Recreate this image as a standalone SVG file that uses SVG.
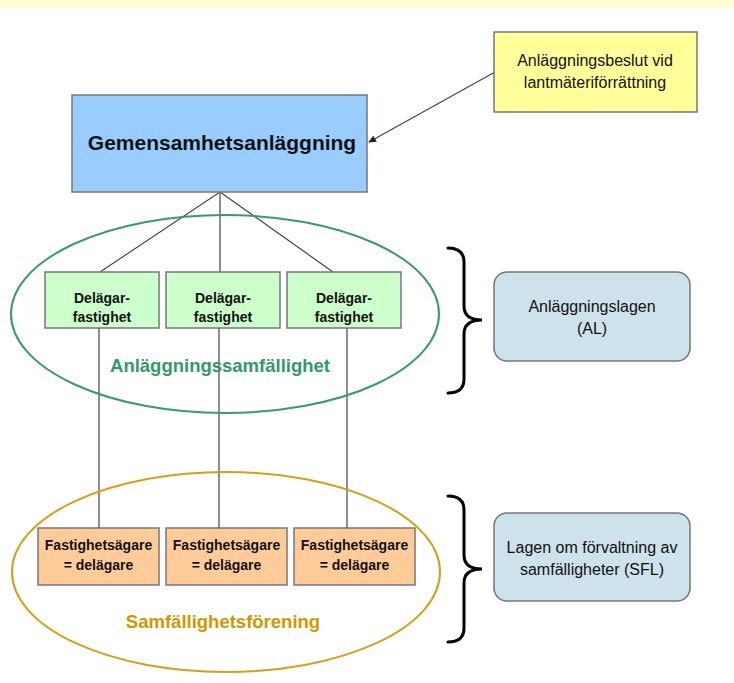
<svg xmlns="http://www.w3.org/2000/svg" width="734" height="683" viewBox="0 0 734 683">
<style>
text{font-family:"Liberation Sans",Arial,sans-serif;text-anchor:middle;fill:#111}
.box{stroke:#777;stroke-width:1.5}
.b{font-weight:bold}
.conn{stroke:#444;stroke-width:1.2;fill:none}
.brace{stroke:#000;stroke-width:3;fill:none;stroke-linecap:round}
</style>
<defs>
<marker id="ah" markerWidth="8" markerHeight="8" refX="7" refY="4" orient="auto" markerUnits="userSpaceOnUse">
<path d="M0,0.5 L8,4 L0,7.5 z" fill="#222"/>
</marker>
</defs>
<rect x="0" y="0" width="734" height="7" fill="#ffffcc"/>
<g id="connectors">
<line class="conn" x1="495" y1="72" x2="369" y2="142" marker-end="url(#ah)"/>
<line class="conn" x1="220" y1="192" x2="100" y2="272"/>
<line class="conn" x1="220" y1="192" x2="220" y2="272"/>
<line class="conn" x1="220" y1="192" x2="333" y2="272"/>
<line class="conn" x1="99" y1="328" x2="99" y2="528"/>
<line class="conn" x1="219" y1="328" x2="219" y2="528"/>
<line class="conn" x1="347" y1="328" x2="347" y2="528"/>
</g>
<g id="ellipse-anl">
<ellipse cx="225" cy="314" rx="214" ry="99" fill="none" stroke="#3a9a6a" stroke-width="2"/>
<text x="220" y="372" class="b" style="font-size:18.5px;fill:#339966">Anläggningssamfällighet</text>
</g>
<g id="ellipse-sam">
<ellipse cx="226" cy="572" rx="214" ry="100" fill="none" stroke="#d4a017" stroke-width="2"/>
<text x="223" y="628" class="b" style="font-size:18.5px;fill:#cc9900">Samfällighetsförening</text>
</g>
<g id="beslut">
<rect class="box" x="494" y="32" width="203" height="80" fill="#ffff99"/>
<text x="595" y="66" style="font-size:16px">Anläggningsbeslut vid</text>
<text x="595" y="88" style="font-size:16px">lantmäteriförrättning</text>
</g>
<g id="gemensamhet">
<rect class="box" x="72" y="95" width="295" height="97" fill="#99ccff"/>
<text x="222" y="150" class="b" style="font-size:21px">Gemensamhetsanläggning</text>
</g>
<g id="del1">
<rect class="box" x="45" y="272" width="114" height="56" fill="#ccffcc"/>
<text x="102" y="303" class="b" style="font-size:14px">Delägar-</text>
<text x="102" y="322" class="b" style="font-size:14px">fastighet</text>
</g>
<g id="del2">
<rect class="box" x="166" y="272" width="114" height="56" fill="#ccffcc"/>
<text x="223" y="303" class="b" style="font-size:14px">Delägar-</text>
<text x="223" y="322" class="b" style="font-size:14px">fastighet</text>
</g>
<g id="del3">
<rect class="box" x="287" y="272" width="114" height="56" fill="#ccffcc"/>
<text x="344" y="303" class="b" style="font-size:14px">Delägar-</text>
<text x="344" y="322" class="b" style="font-size:14px">fastighet</text>
</g>
<g id="own1">
<rect class="box" x="38" y="528" width="121" height="57" fill="#ffcc99"/>
<text x="98.5" y="550" class="b" style="font-size:14px">Fastighetsägare</text>
<text x="98.5" y="570" class="b" style="font-size:14px">= delägare</text>
</g>
<g id="own2">
<rect class="box" x="166" y="528" width="121" height="57" fill="#ffcc99"/>
<text x="226.5" y="550" class="b" style="font-size:14px">Fastighetsägare</text>
<text x="226.5" y="570" class="b" style="font-size:14px">= delägare</text>
</g>
<g id="own3">
<rect class="box" x="294" y="528" width="121" height="57" fill="#ffcc99"/>
<text x="354.5" y="550" class="b" style="font-size:14px">Fastighetsägare</text>
<text x="354.5" y="570" class="b" style="font-size:14px">= delägare</text>
</g>
<g id="brace1">
<path class="brace" d="M448,248 Q464,248 464,262 L464,306 Q464,320 482,320 Q464,320 464,334 L464,379 Q464,393 448,393"/>
</g>
<g id="brace2">
<path class="brace" d="M448,496 Q464,496 464,510 L464,555 Q464,569 482,569 Q464,569 464,583 L464,628 Q464,642 448,642"/>
</g>
<g id="al">
<rect class="box" x="494" y="272" width="196" height="89" rx="13" fill="#cde2ea"/>
<text x="592" y="312" style="font-size:16px">Anläggningslagen</text>
<text x="592" y="334" style="font-size:16px">(AL)</text>
</g>
<g id="sfl">
<rect class="box" x="494" y="513" width="196" height="88" rx="13" fill="#cde2ea"/>
<text x="592" y="553" style="font-size:16px">Lagen om förvaltning av</text>
<text x="592" y="575" style="font-size:16px">samfälligheter (SFL)</text>
</g>
</svg>
